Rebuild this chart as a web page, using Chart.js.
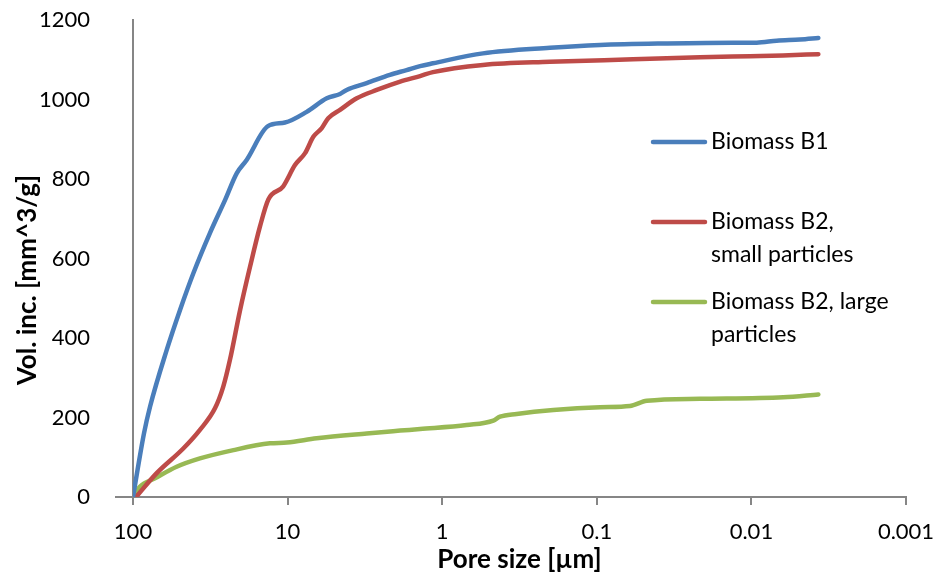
<!DOCTYPE html>
<html><head><meta charset="utf-8">
<script src="https://cdn.jsdelivr.net/npm/chart.js@4"></script>
<style>html,body{margin:0;padding:0;background:#fff}#wrap{width:940px;height:576px;position:relative}</style>
</head><body><div id="wrap"><canvas id="c"></canvas></div>
<script>
const seriesNames = ['Biomass B1', 'Biomass B2, small particles', 'Biomass B2, large particles'];
const legendLines = [['Biomass B1'], ['Biomass B2,', 'small particles'], ['Biomass B2, large', 'particles']];
const seriesColors = ['#4A7EBB', '#BE4B48', '#98B954'];
const xTickValues = [100, 10, 1, 0.1, 0.01, 0.001];
const xTickLabels = ['100', '10', '1', '0.1', '0.01', '0.001'];
const yTickValues = [0, 200, 400, 600, 800, 1000, 1200];
const xTitle = 'Pore size [µm]';
const yTitle = 'Vol. inc. [mm^3/g]';

const b1Size = [100, 84.9, 77.6, 60.5, 49.7, 40.7, 31.8, 25.4, 21.3, 18.4, 13.4, 10.4, 7.52, 5.58, 4.58, 4.15, 3.08, 2.18, 1.70, 1.39, 1.148, 0.545, 0.201, 0.0953, 0.0353, 0.01315, 0.00925, 0.00686, 0.00485, 0.00369];
const b1Vol  = [0, 160, 227, 370, 470, 563, 664, 747, 815, 848, 933, 942, 969, 1003, 1014, 1024, 1041, 1062, 1074, 1084, 1091, 1116, 1130, 1137, 1141, 1143, 1143, 1148, 1151, 1155];

const b2sSize = [95.6, 70.3, 47.3, 36.9, 29.5, 26.1, 23.6, 20.3, 17.5, 15.1, 13.3, 10.7, 8.96, 7.71, 6.82, 6.01, 5.46, 4.58, 3.57, 2.65, 1.87, 1.39, 1.148, 0.545, 0.201, 0.0583, 0.0215, 0.0102, 0.00625, 0.00369];
const b2sVol  = [0, 60, 122, 169, 223, 277, 345, 470, 579, 680, 749, 781, 835, 865, 906, 928, 953, 974, 1003, 1024, 1045, 1059, 1069, 1087, 1095, 1101, 1106, 1109, 1111, 1114];

const b2lSize = [100, 90.1, 72.1, 52.2, 36.9, 22.4, 13.0, 10.1, 6.49, 3.08, 1.87, 1.39, 0.695, 0.467, 0.423, 0.330, 0.191, 0.0953, 0.0610, 0.0475, 0.0215, 0.00622, 0.00369];
const b2lVol  = [0, 26, 47, 76, 97, 118, 135, 137, 148, 160, 167, 171, 181, 192, 202, 209, 219, 226, 229, 242, 247, 251, 258];

const sizes = [b1Size, b2sSize, b2lSize];
const vols = [b1Vol, b2sVol, b2lVol];

const FONT = 'Lato, "Open Sans", sans-serif';
const AXIS_COLOR = '#868686';

const datasets = seriesNames.map((name, i) => ({
  label: name,
  data: sizes[i].map((s, j) => ({x: s, y: vols[i][j]})),
  borderColor: seriesColors[i],
  backgroundColor: seriesColors[i],
  borderWidth: 4.5,
  pointRadius: 0,
  fill: false,
  cubicInterpolationMode: 'monotone',
  borderCapStyle: 'round',
  borderJoinStyle: 'round'
}));

const overlayPlugin = {
  id: 'overlay',
  afterDraw(chart) {
    const ctx = chart.ctx;
    ctx.save();
    // legend
    const legendY = [[142], [222, 255], [302, 335]];
    ctx.font = '23px ' + FONT;
    ctx.fillStyle = '#000';
    ctx.textBaseline = 'middle';
    ctx.textAlign = 'left';
    legendLines.forEach((lines, i) => {
      ctx.strokeStyle = seriesColors[i];
      ctx.lineWidth = 4.5;
      ctx.lineCap = 'round';
      ctx.beginPath();
      ctx.moveTo(653, legendY[i][0]);
      ctx.lineTo(705, legendY[i][0]);
      ctx.stroke();
      lines.forEach((t, k) => ctx.fillText(t, 711, legendY[i][k]));
    });
    // y axis title
    ctx.font = 'bold 26px ' + FONT;
    ctx.translate(28, 280);
    ctx.rotate(-Math.PI / 2);
    ctx.textAlign = 'center';
    ctx.fillText(yTitle, 0, 0);
    ctx.restore();
  }
};

new Chart(document.getElementById('c'), {
  type: 'line',
  data: {datasets},
  plugins: [overlayPlugin],
  options: {
    responsive: true,
    maintainAspectRatio: false,
    animation: false,
    layout: {padding: {left: 0, top: 20, right: 34, bottom: 0}},
    plugins: {legend: {display: false}, tooltip: {enabled: false}},
    scales: {
      x: {
        type: 'logarithmic',
        reverse: true,
        min: 0.001,
        max: 100,
        afterBuildTicks: s => { s.ticks = xTickValues.map(v => ({value: v})); },
        afterFit: s => { s.height = 79; s.paddingLeft = 0; s.paddingRight = 0; },
        ticks: {
          autoSkip: false, maxRotation: 0, minRotation: 0,
          padding: 14,
          color: '#000',
          font: {family: FONT, size: 22},
          callback: (v, i) => xTickLabels[i]
        },
        grid: {drawOnChartArea: false, drawTicks: true, tickLength: 8, color: AXIS_COLOR, lineWidth: 2},
        border: {display: true, color: AXIS_COLOR, width: 2},
        title: {display: true, text: xTitle, color: '#000', font: {family: FONT, size: 26, weight: 'bold'}, padding: {top: 0, bottom: 1}}
      },
      y: {
        type: 'linear',
        min: 0,
        max: 1200,
        afterBuildTicks: s => { s.ticks = yTickValues.map(v => ({value: v})); },
        afterFit: s => { s.width = 133; s.paddingTop = 0; s.paddingBottom = 0; },
        ticks: {
          padding: 25,
          color: '#000',
          font: {family: FONT, size: 22},
          callback: v => String(v)
        },
        grid: {
          drawOnChartArea: false, drawTicks: true, tickLength: 18, lineWidth: 2,
          color: c => (c.tick && c.tick.value === 0) ? AXIS_COLOR : 'rgba(0,0,0,0)'
        },
        border: {display: true, color: AXIS_COLOR, width: 2}
      }
    }
  }
});
</script>
</body></html>
